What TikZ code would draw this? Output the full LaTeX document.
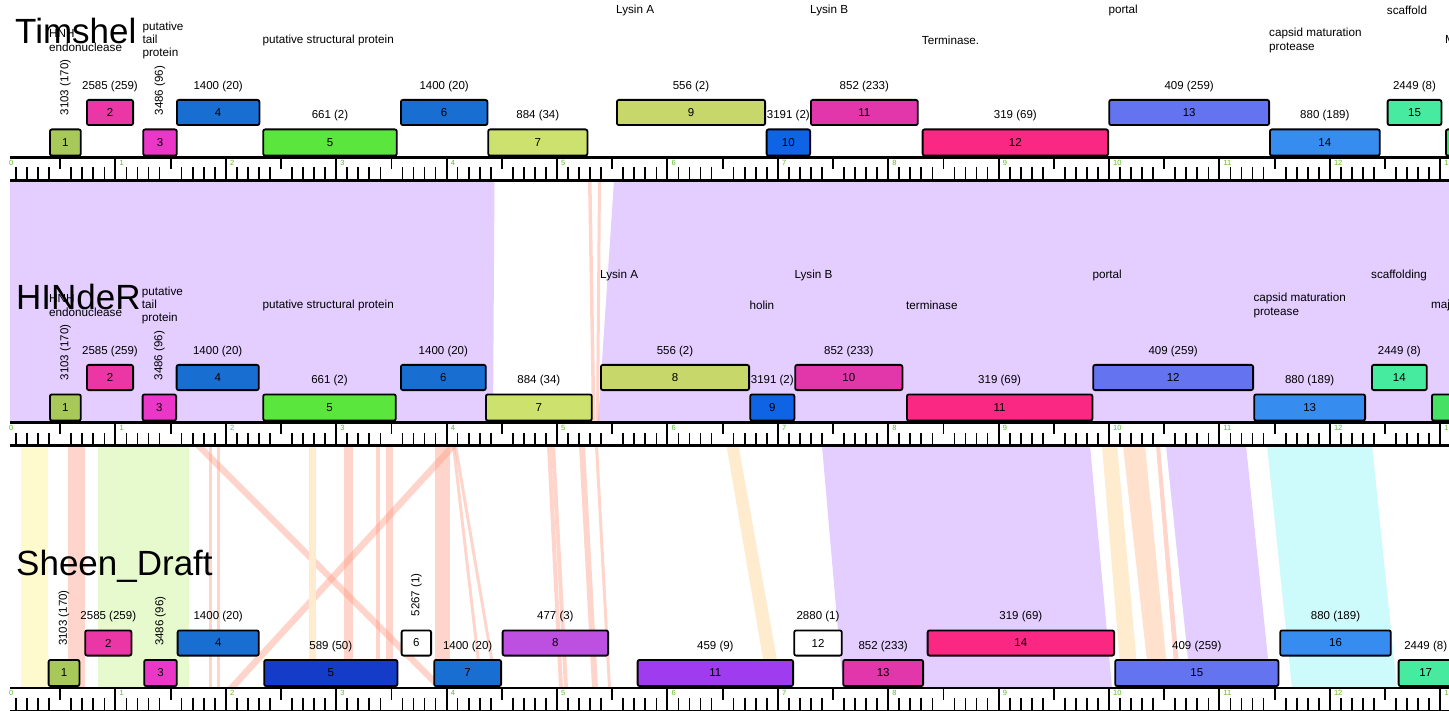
\documentclass[tikz,border=0pt]{standalone}
\usepackage{fontspec}
\setmainfont{Liberation Sans}
\usetikzlibrary{calc}
\definecolor{olivea}{RGB}{168,200,90}
\definecolor{pinka}{RGB}{235,55,165}
\definecolor{maga}{RGB}{235,55,200}
\definecolor{bluea}{RGB}{25,110,210}
\definecolor{greena}{RGB}{90,230,60}
\definecolor{ygreen}{RGB}{205,225,110}
\definecolor{oliveb}{RGB}{200,215,105}
\definecolor{blueb}{RGB}{15,100,230}
\definecolor{magb}{RGB}{225,55,170}
\definecolor{hotpink}{RGB}{250,40,130}
\definecolor{peri}{RGB}{100,115,240}
\definecolor{azure}{RGB}{55,140,240}
\definecolor{mint}{RGB}{70,235,160}
\definecolor{greenb}{RGB}{70,225,100}
\definecolor{darkblue}{RGB}{20,60,200}
\definecolor{purplea}{RGB}{190,80,225}
\definecolor{violet}{RGB}{160,60,240}
\definecolor{lav}{RGB}{228,205,255}
\definecolor{hitred}{RGB}{255,150,125}
\definecolor{lorange}{RGB}{255,235,205}
\definecolor{peach}{RGB}{255,225,205}
\definecolor{yband}{RGB}{255,250,205}
\definecolor{gband}{RGB}{230,250,205}
\definecolor{cband}{RGB}{205,250,250}
\definecolor{rulergreen}{RGB}{90,190,40}
\tikzset{
 gbox/.style={draw=black, line width=1.8pt, rounded corners=2pt, inner sep=0pt, font=\fontsize{11.5}{13}\selectfont},
 numlab/.style={inner sep=0pt, font=\fontsize{11.5}{13}\selectfont},
 flab/.style={inner sep=0pt, anchor=west, align=left, font=\fontsize{11.7}{13.3}\selectfont},
 ttl/.style={inner sep=0pt, anchor=base west, font=\fontsize{35}{40}\selectfont},
 rlab/.style={inner sep=0pt, anchor=north west, text=rulergreen, font=\fontsize{7.5}{8}\selectfont},
 hit/.style={fill=hitred, fill opacity=0.4},
}
\newcommand{\gL}[6]{%
 \pgfmathsetmacro{\gcx}{(#2+#3)/2}%
 \pgfmathsetmacro{\gwd}{#3-#2-1.8}%
 \node[gbox, fill=#5, minimum width=\gwd pt, minimum height=26.2pt] (#1) at (\gcx,#4-15) {#6};}
\newcommand{\gU}[6]{%
 \pgfmathsetmacro{\gcx}{(#2+#3)/2}%
 \pgfmathsetmacro{\gwd}{#3-#2-1.8}%
 \node[gbox, fill=#5, minimum width=\gwd pt, minimum height=25.2pt] (#1) at (\gcx,#4-45) {#6};}
\newcommand{\cnt}[3]{\node[numlab] (#1) at ($(#2.north)+(0,-12.5)$) {#3};}
\newcommand{\cntr}[3]{\node[numlab, rotate=90, anchor=west] (#1) at ($(#2.north)+(0,-13)$) {#3};}
\newcommand{\ruler}[2]{%
 \draw[line width=2.2pt] (10,#1) -- (1449,#1) (10,#1+23) -- (1449,#1+23);
 \foreach \k in {0,...,13}{%
  \pgfmathsetmacro{\xk}{5+110.4*\k}%
  \ifdim\xk pt>9pt \draw[line width=1.9pt] (\xk,#1) -- (\xk,#1+23);\fi
  \pgfmathsetmacro{\xh}{\xk+55.2}%
  \ifdim\xh pt<1449pt \draw[line width=1.8pt] (\xh,#1) -- (\xh,#1+11.5);\fi
  \foreach \i in {1,2,3,4,6,7,8,9}{%
   \pgfmathsetmacro{\xm}{\xk+11.04*\i}%
   \ifdim\xm pt<1449pt \draw[line width=1.7pt] (\xm,#1+23) -- (\xm,#1+10);\fi
  }%
  \node[rlab] (#2\k) at (\xk+4,#1+2.5) {\k};
 }%
}
\begin{document}
\begin{tikzpicture}[x=1pt,y=-1pt]
\useasboundingbox (0,0) rectangle (1449,711);
\clip (0,0) rectangle (1449,711);
\fill[white] (0,0) rectangle (1449,711);
% ---------- bands Timshel -> HINdeR
\fill[lav] (10,180.5) -- (494.5,180.5) -- (493,422.5) -- (10,422.5) -- cycle;
\fill[lav] (614,180.5) -- (1449,180.5) -- (1449,422.5) -- (598,422.5) -- cycle;
\fill[hit] (588,180.5) -- (591.5,180.5) -- (595.5,422.5) -- (592,422.5) -- cycle;
\fill[hit] (598,180.5) -- (601,180.5) -- (599,422.5) -- (596,422.5) -- cycle;
% ---------- bands HINdeR -> Sheen_Draft
\fill[yband] (20.7,445.5) rectangle (47.7,688);
\fill[gband] (98.3,445.5) rectangle (189.3,688);
\fill[hit] (67.7,445.5) rectangle (85,688);
\fill[hit] (209,445.5) rectangle (212,688);
\fill[hit] (216.5,445.5) rectangle (219.5,688);
\fill[hit] (194,445.5) -- (203,445.5) -- (445,688) -- (436,688) -- cycle;
\fill[hit] (449,445.5) -- (458,445.5) -- (236,688) -- (227,688) -- cycle;
\fill[lorange] (309,445.5) rectangle (316,688);
\fill[hit] (344,445.5) rectangle (353,688);
\fill[hit] (375.5,445.5) rectangle (380,688);
\fill[hit] (385.5,445.5) rectangle (393,688);
\fill[hit] (435,445.5) rectangle (450,688);
\fill[hit] (452,445.5) -- (455,445.5) -- (483,688) -- (480,688) -- cycle;
\fill[hit] (454,445.5) -- (457,445.5) -- (498,688) -- (495,688) -- cycle;
\fill[hit] (547,445.5) -- (551,445.5) -- (563,688) -- (559,688) -- cycle;
\fill[hit] (551,445.5) -- (555,445.5) -- (568,688) -- (564,688) -- cycle;
\fill[hit] (579,445.5) -- (585,445.5) -- (598,688) -- (592,688) -- cycle;
\fill[hit] (595,445.5) -- (598,445.5) -- (611,688) -- (608,688) -- cycle;
\fill[lorange] (726.5,445.5) -- (738.5,445.5) -- (782,688) -- (768,688) -- cycle;
\fill[lav] (822,445.5) -- (1090,445.5) -- (1112,688) -- (843,688) -- cycle;
\fill[lorange] (1102,445.5) -- (1117,445.5) -- (1139,688) -- (1122,688) -- cycle;
\fill[peach] (1123,445.5) -- (1145,445.5) -- (1169,688) -- (1150,688) -- cycle;
\fill[hit] (1156,445.5) -- (1160,445.5) -- (1181,688) -- (1176,688) -- cycle;
\fill[lav] (1166,445.5) -- (1246,445.5) -- (1271,688) -- (1191,688) -- cycle;
\fill[cband] (1267,445.5) -- (1372,445.5) -- (1397,688) -- (1292,688) -- cycle;
% ---------- rulers
\ruler{157.5}{ra}
\ruler{422.5}{rb}
\ruler{688}{rc}
% ---------- Timshel
\node[ttl] (title1) at (15,44) {Timshel};
\gL{a1}{49}{81.7}{157.5}{olivea}{1}
\gU{a2}{86}{134}{157.5}{pinka}{2}
\gL{a3}{142.3}{177.7}{157.5}{maga}{3}
\gU{a4}{176}{260.3}{157.5}{bluea}{4}
\gL{a5}{262.3}{397.7}{157.5}{greena}{5}
\gU{a6}{400}{488.3}{157.5}{bluea}{6}
\gL{a7}{487.3}{588.3}{157.5}{ygreen}{7}
\gU{a9}{616}{766}{157.5}{oliveb}{9}
\gL{a10}{765.7}{811}{157.5}{blueb}{10}
\gU{a11}{810}{918.7}{157.5}{magb}{11}
\gL{a12}{921.7}{1109}{157.5}{hotpink}{12}
\gU{a13}{1108.3}{1270}{157.5}{peri}{13}
\gL{a14}{1269}{1380.7}{157.5}{azure}{14}
\gU{a15}{1386.7}{1442.3}{157.5}{mint}{15}
\gL{a16}{1445}{1500}{157.5}{greenb}{}
\cntr{na1}{a1}{3103 (170)}
\cnt{na2}{a2}{2585 (259)}
\cntr{na3}{a3}{3486 (96)}
\cnt{na4}{a4}{1400 (20)}
\cnt{na5}{a5}{661 (2)}
\cnt{na6}{a6}{1400 (20)}
\cnt{na7}{a7}{884 (34)}
\cnt{na9}{a9}{556 (2)}
\cnt{na10}{a10}{3191 (2)}
\cnt{na11}{a11}{852 (233)}
\cnt{na12}{a12}{319 (69)}
\cnt{na13}{a13}{409 (259)}
\cnt{na14}{a14}{880 (189)}
\cnt{na15}{a15}{2449 (8)}
\node[flab] (fa1) at (49,40.5) {HNH\\endonuclease};
\node[flab] (fa3) at (142.3,40.5) {putative\\tail\\protein};
\node[flab] (fa5) at (262.3,40.5) {putative structural protein};
\node[flab] (fa9) at (616,10.5) {Lysin A};
\node[flab] (fa11) at (810,10.5) {Lysin B};
\node[flab] (fa12) at (921.7,40.5) {Terminase.};
\node[flab] (fa13) at (1108.3,10.5) {portal};
\node[flab] (fa14) at (1269,40.5) {capsid maturation\\protease};
\node[flab] (fa15) at (1386.7,10.5) {scaffold};
\node[flab] (fa16) at (1445,40.5) {Maj};
% ---------- HINdeR
\node[ttl] (title2) at (16,309.5) {HINdeR};
\gL{b1}{49}{81.7}{422.5}{olivea}{1}
\gU{b2}{86}{134}{422.5}{pinka}{2}
\gL{b3}{141.7}{177}{422.5}{maga}{3}
\gU{b4}{175.7}{259.7}{422.5}{bluea}{4}
\gL{b5}{262.3}{396.7}{422.5}{greena}{5}
\gU{b6}{400}{486.7}{422.5}{bluea}{6}
\gL{b7}{485}{592.7}{422.5}{ygreen}{7}
\gU{b8}{600}{750}{422.5}{oliveb}{8}
\gL{b9}{749.3}{795.3}{422.5}{blueb}{9}
\gU{b10}{794.3}{903.3}{422.5}{magb}{10}
\gL{b11}{906}{1093.3}{422.5}{hotpink}{11}
\gU{b12}{1092.3}{1254}{422.5}{peri}{12}
\gL{b13}{1253.3}{1366}{422.5}{azure}{13}
\gU{b14}{1371}{1427.7}{422.5}{mint}{14}
\gL{b15}{1431}{1500}{422.5}{greenb}{}
\cntr{nb1}{b1}{3103 (170)}
\cnt{nb2}{b2}{2585 (259)}
\cntr{nb3}{b3}{3486 (96)}
\cnt{nb4}{b4}{1400 (20)}
\cnt{nb5}{b5}{661 (2)}
\cnt{nb6}{b6}{1400 (20)}
\cnt{nb7}{b7}{884 (34)}
\cnt{nb8}{b8}{556 (2)}
\cnt{nb9}{b9}{3191 (2)}
\cnt{nb10}{b10}{852 (233)}
\cnt{nb11}{b11}{319 (69)}
\cnt{nb12}{b12}{409 (259)}
\cnt{nb13}{b13}{880 (189)}
\cnt{nb14}{b14}{2449 (8)}
\node[flab] (fb1) at (49,305.5) {HNH\\endonuclease};
\node[flab] (fb3) at (141.7,305.5) {putative\\tail\\protein};
\node[flab] (fb5) at (262.3,305.5) {putative structural protein};
\node[flab] (fb8) at (600,275.5) {Lysin A};
\node[flab] (fb9) at (749.3,305.5) {holin};
\node[flab] (fb10) at (794.3,275.5) {Lysin B};
\node[flab] (fb11) at (906,305.5) {terminase};
\node[flab] (fb12) at (1092.3,275.5) {portal};
\node[flab] (fb13) at (1253.3,305.5) {capsid maturation\\protease};
\node[flab] (fb14) at (1371,275.5) {scaffolding};
\node[flab] (fb15) at (1431,305.5) {maj};
% ---------- Sheen_Draft
\node[ttl] (title3) at (16,575) {Sheen\_Draft};
\gL{c1}{47.7}{80.3}{688}{olivea}{1}
\gU{c2}{84.3}{132.3}{688}{pinka}{2}
\gL{c3}{143.3}{177.7}{688}{maga}{3}
\gU{c4}{176.7}{259.7}{688}{bluea}{4}
\gL{c5}{263.3}{398.3}{688}{darkblue}{5}
\gU{c6}{400.7}{432}{688}{white}{6}
\gL{c7}{433.3}{502}{688}{bluea}{7}
\gU{c8}{501.7}{609}{688}{purplea}{8}
\gL{c11}{636.7}{794}{688}{violet}{11}
\gU{c12}{793.3}{842.7}{688}{white}{12}
\gL{c13}{842.3}{924}{688}{magb}{13}
\gU{c14}{926.7}{1115}{688}{hotpink}{14}
\gL{c15}{1114.3}{1279.3}{688}{peri}{15}
\gU{c16}{1279.3}{1391.7}{688}{azure}{16}
\gL{c17}{1397.7}{1453.7}{688}{mint}{17}
\cntr{nc1}{c1}{3103 (170)}
\cnt{nc2}{c2}{2585 (259)}
\cntr{nc3}{c3}{3486 (96)}
\cnt{nc4}{c4}{1400 (20)}
\cnt{nc5}{c5}{589 (50)}
\cntr{nc6}{c6}{5267 (1)}
\cnt{nc7}{c7}{1400 (20)}
\cnt{nc8}{c8}{477 (3)}
\cnt{nc11}{c11}{459 (9)}
\cnt{nc12}{c12}{2880 (1)}
\cnt{nc13}{c13}{852 (233)}
\cnt{nc14}{c14}{319 (69)}
\cnt{nc15}{c15}{409 (259)}
\cnt{nc16}{c16}{880 (189)}
\cnt{nc17}{c17}{2449 (8)}
\end{tikzpicture}
\end{document}
